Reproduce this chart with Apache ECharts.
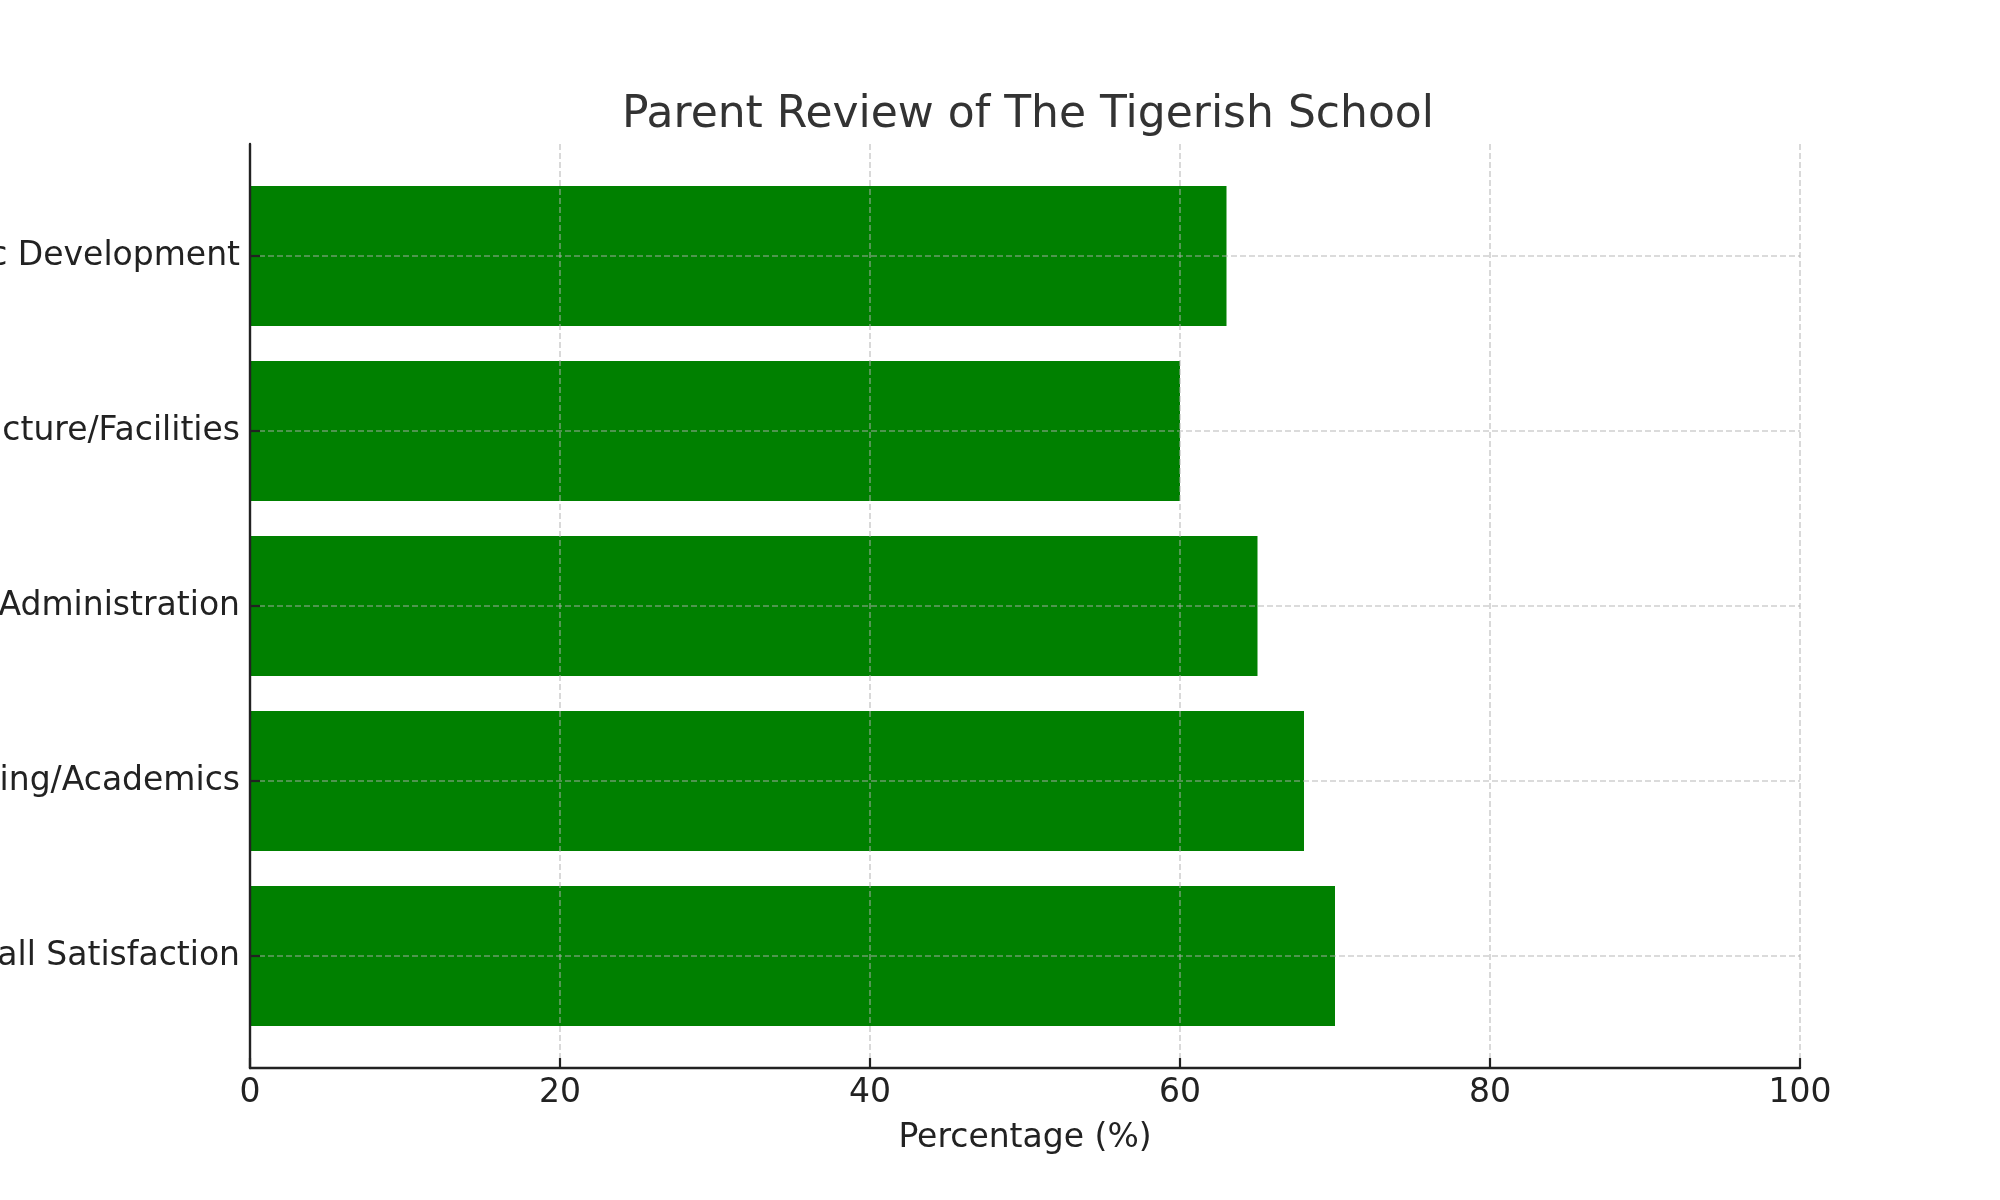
<!DOCTYPE html>
<html>
<head>
<meta charset="utf-8">
<title>Parent Review of The Tigerish School</title>
<script src="https://cdn.jsdelivr.net/npm/echarts@6/dist/echarts.min.js"></script>
<style>
  html, body { margin: 0; padding: 0; background: #fff; }
  #main { width: 2000px; height: 1200px; }
</style>
</head>
<body>
<div id="main"></div>
<script>
// data, bottom bar first
var categories = ['Overall Satisfaction', 'Teaching/Academics', 'School Administration', 'Infrastructure/Facilities', 'Holistic Development'];
var percentages = [70, 68, 65, 60, 63];
var xTicks = [0, 20, 40, 60, 80, 100];

var chart = echarts.init(document.getElementById('main'));

var font = 'DejaVu Sans';
var gridLine = { show: true, lineStyle: { color: 'rgba(176,176,176,0.6)', width: 1.6, type: [6, 3] } };

var option = {
  backgroundColor: '#fff',
  animation: false,
  title: {
    text: 'Parent Review of The Tigerish School',
    left: 1023,
    top: 89,
    textAlign: 'center',
    textStyle: { fontFamily: font, fontSize: 44, fontWeight: 'normal', color: '#333' }
  },
  grid: [
    // frame: x axis, left spine, vertical grid lines
    { left: 250, right: 200, top: 144, bottom: 132, outerBoundsMode: 'none', containLabel: false },
    // bars: y runs from first to last category center
    { left: 250, right: 200, top: 256, bottom: 244, outerBoundsMode: 'none', containLabel: false }
  ],
  xAxis: [{
    gridIndex: 0,
    type: 'value',
    min: xTicks[0],
    max: xTicks[xTicks.length - 1],
    interval: 20,
    z: 3,
    name: 'Percentage (%)',
    nameLocation: 'middle',
    nameGap: 54,
    nameTextStyle: { fontFamily: font, fontSize: 33, color: '#222' },
    axisLine: { show: true, lineStyle: { color: '#222', width: 2.4 } },
    axisTick: { show: true, inside: true, length: 10, lineStyle: { color: '#222', width: 2.2 } },
    axisLabel: { fontFamily: font, fontSize: 33, color: '#222', margin: 9 },
    splitLine: gridLine
  }, {
    gridIndex: 1,
    type: 'value',
    min: 0,
    max: 100,
    show: false
  }],
  yAxis: [{
    gridIndex: 0,
    type: 'value',
    min: 0,
    max: 1,
    z: 3,
    axisLine: { show: true, lineStyle: { color: '#222', width: 2.4 } },
    axisTick: { show: false },
    axisLabel: { show: false },
    splitLine: { show: false }
  }, {
    gridIndex: 1,
    type: 'category',
    data: categories,
    boundaryGap: false,
    z: 3,
    axisLine: { show: false, onZero: false },
    axisTick: { show: true, inside: true, length: 10, lineStyle: { color: '#222', width: 2.2 } },
    axisLabel: { fontFamily: font, fontSize: 33, color: '#222', margin: 10, padding: [7, 0, 0, 0] },
    splitLine: gridLine
  }],
  series: [{
    type: 'bar',
    xAxisIndex: 1,
    yAxisIndex: 1,
    data: percentages,
    barWidth: 140,
    clip: false,
    z: 2,
    itemStyle: { color: '#008000' }
  }]
};

chart.setOption(option);
</script>
</body>
</html>
